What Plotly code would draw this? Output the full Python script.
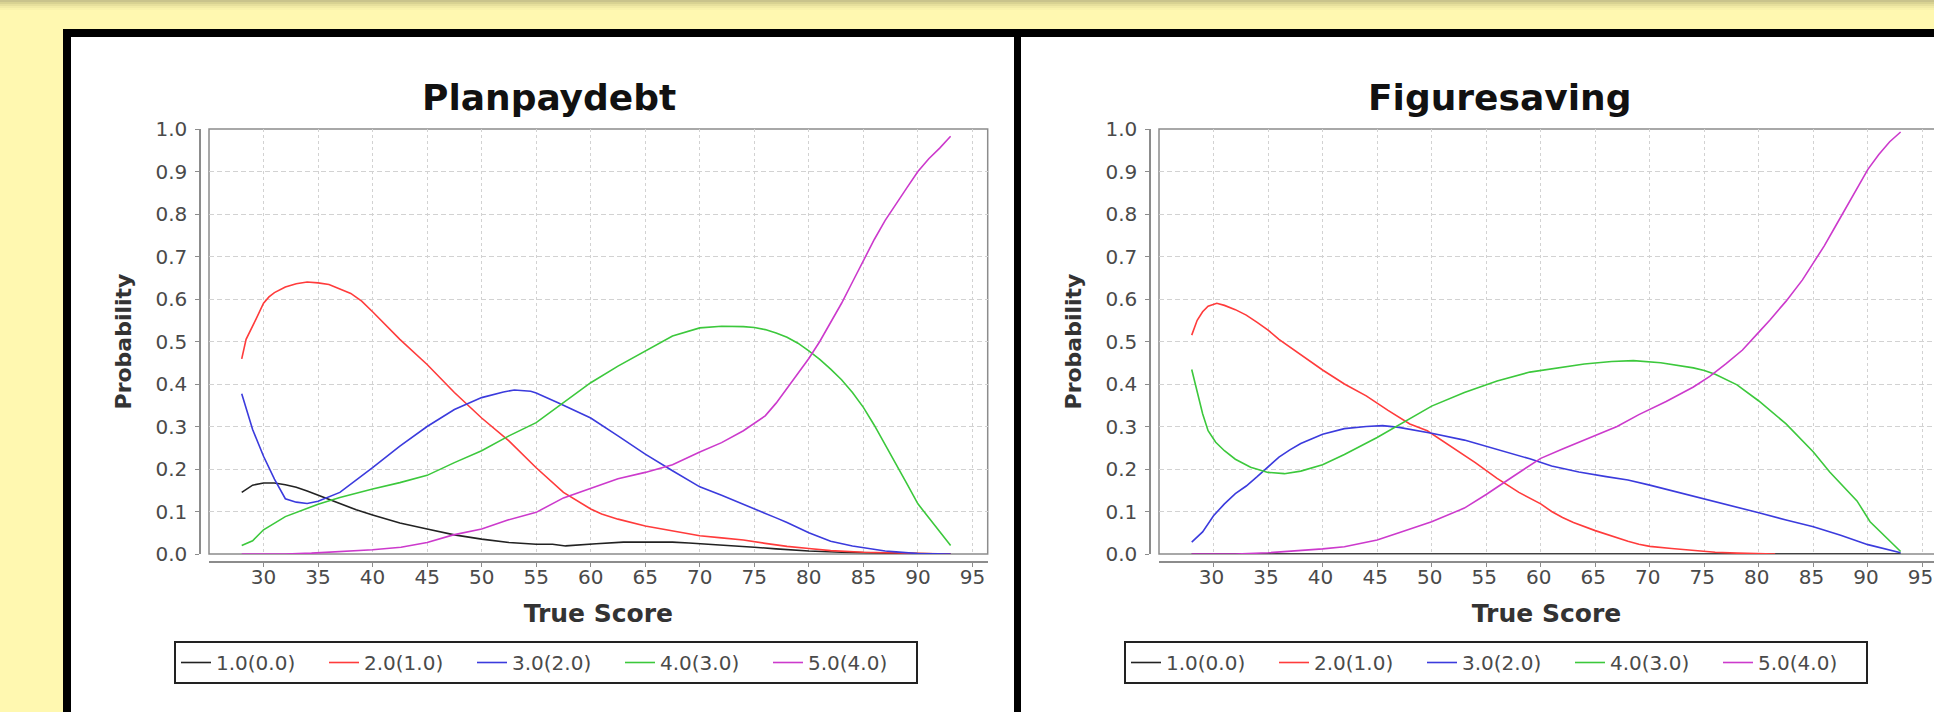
import plotly.graph_objects as go

# ---------------------------------------------------------------------------
# Category response curves for two items (probability vs. true score)
# ---------------------------------------------------------------------------
SERIES_NAMES = ["1.0(0.0)", "2.0(1.0)", "3.0(2.0)", "4.0(3.0)", "5.0(4.0)"]
SERIES_COLORS = ["#222222", "#ff3b3b", "#3b3bdd", "#3cc83c", "#cc3acc"]
X_TICKS = [30, 35, 40, 45, 50, 55, 60, 65, 70, 75, 80, 85, 90, 95]
Y_TICKS = [0.0, 0.1, 0.2, 0.3, 0.4, 0.5, 0.6, 0.7, 0.8, 0.9, 1.0]

# --- Planpaydebt -----------------------------------------------------------
pp_c1_x = [28, 29, 30, 31, 32, 33, 34, 35, 37, 38.5, 40, 42.5, 45, 47.5, 50, 52.5, 55,
           56.5, 57.7, 59, 60.5, 63, 65, 67.5, 69, 71, 73, 75, 77, 80, 83, 86, 90, 93]
pp_c1_y = [0.145, 0.162, 0.167, 0.167, 0.163, 0.157, 0.148, 0.138, 0.118, 0.104, 0.092,
           0.073, 0.059, 0.045, 0.035, 0.027, 0.023, 0.023, 0.019, 0.022, 0.024, 0.028,
           0.028, 0.028, 0.026, 0.023, 0.02, 0.016, 0.012, 0.007, 0.004, 0.002, 0.001, 0.0]

pp_c2_x = [28, 28.4, 29.3, 30, 30.5, 31, 32, 33, 34, 35, 36, 38, 39, 40, 42.5, 45, 47.5,
           50, 52.5, 55, 57.5, 60, 61, 62.5, 65, 67.5, 70, 72, 74, 76, 78, 80, 82, 85,
           88, 90, 93]
pp_c2_y = [0.459, 0.505, 0.552, 0.59, 0.605, 0.615, 0.628, 0.636, 0.64, 0.638, 0.634,
           0.613, 0.595, 0.57, 0.505, 0.446, 0.38, 0.32, 0.266, 0.203, 0.145, 0.106,
           0.094, 0.082, 0.066, 0.055, 0.043, 0.038, 0.033, 0.025, 0.018, 0.013, 0.008,
           0.004, 0.002, 0.001, 0.0]

pp_c3_x = [28, 29, 30, 31, 32, 33, 34, 35, 37, 38, 40, 42.5, 45, 47.5, 50, 52, 53, 54.5,
           55, 57, 60, 62.5, 65, 67.5, 70, 72, 75, 77, 78, 80, 81, 82, 84, 85, 86, 87,
           88, 90, 93]
pp_c3_y = [0.377, 0.293, 0.23, 0.176, 0.13, 0.122, 0.119, 0.124, 0.145, 0.164, 0.203,
           0.254, 0.3, 0.34, 0.368, 0.381, 0.386, 0.383, 0.379, 0.356, 0.32, 0.278,
           0.235, 0.196, 0.158, 0.138, 0.107, 0.085, 0.074, 0.05, 0.04, 0.03, 0.019,
           0.015, 0.01, 0.007, 0.005, 0.001, 0.0]

pp_c4_x = [28, 29, 30, 31, 32, 35, 37, 40, 42.5, 45, 47.5, 50, 52.5, 55, 57.5, 60, 62.5,
           65, 67.5, 70, 72, 74, 75, 76, 77, 78, 79, 80, 81, 82, 83, 84, 85, 86, 87, 88,
           89, 90, 91, 92, 93]
pp_c4_y = [0.02, 0.031, 0.057, 0.073, 0.088, 0.117, 0.133, 0.153, 0.168, 0.185, 0.215,
           0.243, 0.278, 0.309, 0.356, 0.403, 0.442, 0.477, 0.513, 0.532, 0.536, 0.535,
           0.533, 0.528, 0.52, 0.51, 0.496, 0.478, 0.458, 0.435, 0.41, 0.38, 0.345, 0.303,
           0.258, 0.212, 0.165, 0.118, 0.085, 0.052, 0.02]

pp_c5_x = [28, 32, 34.4, 37, 40, 42.6, 45, 47.4, 50, 52.4, 55, 57.5, 60, 62.5, 65, 67.5,
           70, 72, 74, 76, 77, 78, 79, 80, 81, 82, 83, 84, 85, 86, 87, 88, 89, 90, 91,
           92, 92.5, 93]
pp_c5_y = [0.0, 0.0, 0.002, 0.005, 0.01, 0.016, 0.027, 0.045, 0.059, 0.08, 0.098, 0.132,
           0.155, 0.177, 0.192, 0.21, 0.24, 0.262, 0.29, 0.325, 0.355, 0.39, 0.425, 0.46,
           0.5, 0.545, 0.59, 0.64, 0.69, 0.74, 0.785, 0.825, 0.862, 0.9, 0.93, 0.955,
           0.97, 0.983]

# --- Figuresaving ----------------------------------------------------------
fs_c1_x = [28, 40, 50, 60, 70, 80, 93]
fs_c1_y = [0.0, 0.0, 0.0, 0.0, 0.0, 0.0, 0.0]

fs_c2_x = [28, 28.5, 29, 29.5, 30.3, 31, 32, 33, 34, 35, 36, 37, 38, 40, 42, 44, 46, 48,
           49.6, 52, 54, 56, 58, 60, 61, 62, 63, 65, 67, 68, 69, 70, 72, 74, 76, 78, 80,
           81.5]
fs_c2_y = [0.515, 0.55, 0.57, 0.583, 0.59, 0.585, 0.575, 0.562, 0.545, 0.527, 0.505,
           0.487, 0.469, 0.433, 0.4, 0.372, 0.338, 0.306, 0.29, 0.25, 0.215, 0.178,
           0.145, 0.118, 0.1, 0.086, 0.074, 0.055, 0.038, 0.03, 0.023, 0.018, 0.013,
           0.008, 0.004, 0.002, 0.001, 0.0]

fs_c3_x = [28, 29, 30, 31, 32, 33, 34, 35, 36, 37, 38, 40, 42, 44, 45.5, 47, 50, 53, 56,
           59, 61, 63.5, 66, 68, 70, 72.5, 75, 77, 80, 82.5, 85, 87.5, 90, 93]
fs_c3_y = [0.028, 0.052, 0.09, 0.118, 0.142, 0.16, 0.182, 0.205, 0.228, 0.245, 0.26,
           0.282, 0.295, 0.3, 0.302, 0.298, 0.284, 0.268, 0.246, 0.224, 0.207, 0.193,
           0.182, 0.174, 0.162, 0.146, 0.129, 0.118, 0.097, 0.08, 0.064, 0.044, 0.022,
           0.003]

fs_c4_x = [28, 28.5, 29, 29.5, 30.2, 31, 32, 33.4, 35, 36.5, 38, 40, 42, 45, 48, 50, 53,
           56, 59, 62, 64, 66.5, 68.5, 71, 74, 75, 76, 78, 80, 82.5, 85, 86.5, 89, 90.2,
           91.7, 93]
fs_c4_y = [0.434, 0.38, 0.33, 0.29, 0.263, 0.243, 0.223, 0.204, 0.192, 0.189, 0.195,
           0.21, 0.234, 0.274, 0.318, 0.348, 0.38, 0.407, 0.428, 0.44, 0.447, 0.453,
           0.455, 0.45, 0.438, 0.432, 0.423, 0.398, 0.36, 0.306, 0.24, 0.193, 0.125,
           0.076, 0.038, 0.006]

fs_c5_x = [28, 32, 35, 38, 40, 42, 45, 47, 50, 53, 55, 57.5, 60, 62, 64.5, 67, 69, 71.5,
           74, 75.5, 77, 78.5, 80, 81, 82.5, 84, 85, 86, 87, 88, 89, 90, 91, 92, 93]
fs_c5_y = [0.0, 0.0, 0.003, 0.008, 0.012, 0.017, 0.033, 0.05, 0.076, 0.108, 0.14, 0.183,
           0.225, 0.247, 0.274, 0.3, 0.328, 0.359, 0.393, 0.418, 0.448, 0.48, 0.522,
           0.55, 0.595, 0.645, 0.685, 0.725, 0.77, 0.815, 0.86, 0.905, 0.94, 0.97, 0.993]

CHARTS = [
    {"title": "Planpaydebt",
     "series": [(pp_c1_x, pp_c1_y), (pp_c2_x, pp_c2_y), (pp_c3_x, pp_c3_y),
                (pp_c4_x, pp_c4_y), (pp_c5_x, pp_c5_y)]},
    {"title": "Figuresaving",
     "series": [(fs_c1_x, fs_c1_y), (fs_c2_x, fs_c2_y), (fs_c3_x, fs_c3_y),
                (fs_c4_x, fs_c4_y), (fs_c5_x, fs_c5_y)]},
]

# ---------------------------------------------------------------------------
# Page geometry (pixels)
# ---------------------------------------------------------------------------
W, H = 1934, 712
PANEL_SHIFT = 950          # horizontal offset between the two chart panels
PLOT_L, PLOT_R = 209, 987.7
PLOT_T, PLOT_B = 129, 554
X_MIN, X_MAX = 25, 96.4
X_SCALE = (PLOT_R - PLOT_L) / (X_MAX - X_MIN)

FONT = "DejaVu Sans"
BG_YELLOW = "#fff8b0"
TICK_COLOR = "#4a4a4a"
AXIS_GRAY = "#8c8c8c"
GRID_GRAY = "#d2d2d2"


def fx(px):
    return px / W


def fy(py):
    return 1 - py / H


fig = go.Figure()

for ci, chart in enumerate(CHARTS):
    suffix = "" if ci == 0 else str(ci + 1)
    for si, (xs, ys) in enumerate(chart["series"]):
        fig.add_trace(go.Scatter(
            x=xs, y=ys, mode="lines", name=SERIES_NAMES[si],
            line=dict(color=SERIES_COLORS[si], width=1.6),
            xaxis="x" + suffix, yaxis="y" + suffix,
            legend="legend" + suffix, hoverinfo="skip",
        ))

layout = dict(
    width=W, height=H,
    margin=dict(l=0, r=0, t=0, b=0),
    paper_bgcolor=BG_YELLOW,
    plot_bgcolor="white",
    font=dict(family=FONT, color=TICK_COLOR),
    shapes=[], annotations=[],
)

# shadow strip along the top edge of the page
shadow = ["#c9c38c", "#d8d292", "#e6df9c", "#f1eaa5", "#f9f2ab"]
for i, c in enumerate(shadow):
    layout["shapes"].append(dict(
        type="rect", xref="paper", yref="paper", layer="below",
        x0=0, x1=1, y0=fy(2 * i + 2), y1=fy(2 * i), fillcolor=c, line_width=0))

# black frame holding the two panels, then the white panel interiors
layout["shapes"].append(dict(
    type="rect", xref="paper", yref="paper", layer="below",
    x0=fx(63), x1=1.0, y0=0, y1=fy(29), fillcolor="black", line_width=0))
layout["shapes"].append(dict(
    type="rect", xref="paper", yref="paper", layer="below",
    x0=fx(71), x1=fx(1014), y0=0, y1=fy(37), fillcolor="white", line_width=0))
layout["shapes"].append(dict(
    type="rect", xref="paper", yref="paper", layer="below",
    x0=fx(1021), x1=1.0, y0=0, y1=fy(37), fillcolor="white", line_width=0))

for ci, chart in enumerate(CHARTS):
    off = ci * PANEL_SHIFT
    suffix = "" if ci == 0 else str(ci + 1)
    left = PLOT_L + off
    right = min(PLOT_R + off, W)
    x_hi = X_MIN + (right - left) / X_SCALE

    layout["xaxis" + suffix] = dict(
        domain=[fx(left), fx(right)], range=[X_MIN, x_hi],
        anchor="free", position=fy(PLOT_B + 8),
        tickvals=X_TICKS, ticks="outside", ticklen=4, tickcolor=AXIS_GRAY,
        showline=True, linecolor=AXIS_GRAY, linewidth=1.5,
        showgrid=True, gridcolor=GRID_GRAY, gridwidth=1, griddash="3px,3px",
        zeroline=False, automargin=False, fixedrange=True,
        tickfont=dict(family=FONT, size=20, color=TICK_COLOR),
        ticklabelstandoff=-7, ticklabeloverflow="allow",
        ticklabelshift=0 if ci == 0 else -2,
        title=dict(text="True Score", standoff=16,
                   font=dict(family=FONT, size=25, color="#333333", weight="bold")),
    )
    layout["yaxis" + suffix] = dict(
        domain=[fy(PLOT_B), fy(PLOT_T)], range=[0, 1],
        anchor="free", position=fx(left - 9),
        tickvals=Y_TICKS, tickformat=".1f", ticks="outside", ticklen=4,
        tickcolor=AXIS_GRAY,
        showline=True, linecolor=AXIS_GRAY, linewidth=1.5,
        showgrid=True, gridcolor=GRID_GRAY, gridwidth=1, griddash="5px,3px",
        zeroline=False, automargin=False, fixedrange=True,
        tickfont=dict(family=FONT, size=20, color=TICK_COLOR),
        ticklabelstandoff=4,
        title=dict(text="Probability", standoff=17,
                   font=dict(family=FONT, size=22, color="#333333", weight="bold")),
    )

    # plot-area outline
    layout["shapes"].append(dict(
        type="rect", xref="x" + suffix + " domain", yref="y" + suffix + " domain",
        x0=0, x1=1 if ci == 0 else 1.02, y0=0, y1=1, layer="below",
        line=dict(color=AXIS_GRAY, width=1.5), fillcolor="rgba(0,0,0,0)"))

    # chart title
    layout["annotations"].append(dict(
        text=chart["title"], xref="paper", yref="paper",
        x=fx(549 + off), y=fy(97), xanchor="center", yanchor="middle",
        showarrow=False,
        font=dict(family=FONT, size=36, color="#111111", weight="bold")))

    layout["legend" + suffix] = dict(
        orientation="h", x=fx(546 + off), xanchor="center",
        y=fy(641), yanchor="top",
        bgcolor="white", bordercolor="#222222", borderwidth=2,
        font=dict(family=FONT, size=20, color=TICK_COLOR),
        itemwidth=30, entrywidth=103, entrywidthmode="pixels",
        itemclick=False, itemdoubleclick=False,
    )

fig.update_layout(**layout)
fig.write_html("out.html")
